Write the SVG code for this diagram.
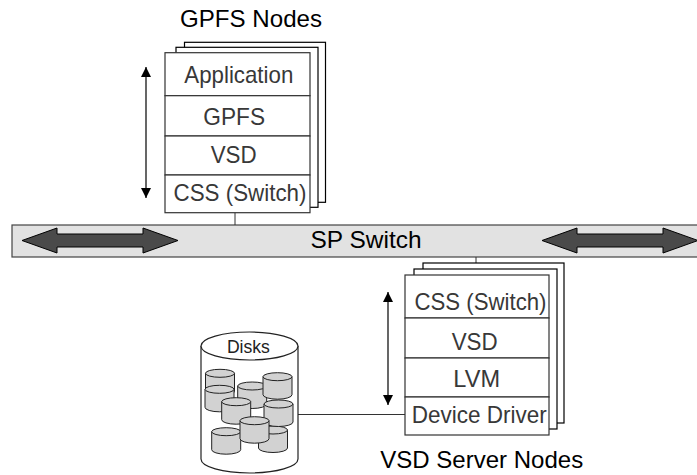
<svg xmlns="http://www.w3.org/2000/svg" width="697" height="475" viewBox="0 0 697 475">
  <style>
    .layer { fill: #ffffff; stroke: #333333; stroke-width: 1.2; }
    .sheet { fill: #ffffff; stroke: #000000; stroke-width: 1.2; }
    .lbl { font-family: "Liberation Sans", Arial, sans-serif; font-size: 24px; fill: #383838; text-anchor: middle; }
    .title { font-family: "Liberation Sans", Arial, sans-serif; font-size: 24px; fill: #000000; text-anchor: middle; }
    .wire { stroke: #333333; stroke-width: 1; fill: none; }
    .vArrow { stroke: #000000; stroke-width: 1.2; fill: none; }
    .fatArrow { fill: #4a4a4a; stroke: #000000; stroke-width: 1; }
    .cyl { fill: #d2d2d2; stroke: #222222; stroke-width: 1; }
  </style>
  <defs>
    <marker id="tri" viewBox="0 0 10 10" refX="10" refY="5" markerWidth="10" markerHeight="17" markerUnits="userSpaceOnUse" orient="auto-start-reverse">
      <path d="M0,0 L10,5 L0,10 Z" fill="#000000"/>
    </marker>
    <!-- small disk drum: top ellipse centre at (14.5,4) -->
    <g id="drum">
      <path class="cyl" d="M0,4 L0,22 A14.5,4.5 0 0 0 29,22 L29,4 Z"/>
      <ellipse class="cyl" cx="14.5" cy="4" rx="14.5" ry="4"/>
    </g>
  </defs>

  <!-- SP Switch bus -->
  <g id="sp-switch">
    <rect x="12" y="225" width="700" height="32" fill="#e2e2e2" stroke="#444444" stroke-width="1.2"/>
    <polygon class="fatArrow" points="22,240.5 57,228 57,234 143,234 143,228 178,240.5 143,253 143,247 57,247 57,253"/>
    <polygon class="fatArrow" points="542,240.5 577,228 577,234 663,234 663,228 698,240.5 663,253 663,247 577,247 577,253"/>
    <text class="title" x="366" y="248" textLength="111" lengthAdjust="spacingAndGlyphs">SP Switch</text>
  </g>

  <!-- connectors -->
  <g id="connectors">
    <line class="wire" x1="235" y1="212.7" x2="235" y2="225"/>
    <line class="wire" x1="476" y1="257" x2="476" y2="263"/>
    <line class="wire" x1="298" y1="414.5" x2="405" y2="414.5"/>
    <line class="vArrow" x1="146" y1="67" x2="146" y2="198" marker-start="url(#tri)" marker-end="url(#tri)"/>
    <line class="vArrow" x1="388" y1="292" x2="388" y2="405" marker-start="url(#tri)" marker-end="url(#tri)"/>
  </g>

  <!-- GPFS node stack -->
  <g id="gpfs-nodes">
    <text class="title" x="251" y="27" textLength="142" lengthAdjust="spacingAndGlyphs">GPFS Nodes</text>
    <rect class="sheet" x="184.5" y="42.3" width="141" height="160"/>
    <rect class="sheet" x="176" y="47.3" width="142" height="160"/>
    <rect class="layer" x="165" y="52.7" width="145" height="43"/>
    <rect class="layer" x="165" y="95.7" width="145" height="40.3"/>
    <rect class="layer" x="165" y="136" width="145" height="39"/>
    <rect class="layer" x="165" y="175" width="145" height="37.7"/>
    <text class="lbl" x="238.8" y="83" textLength="109" lengthAdjust="spacingAndGlyphs">Application</text>
    <text class="lbl" x="234.2" y="124.5" textLength="61.7" lengthAdjust="spacingAndGlyphs">GPFS</text>
    <text class="lbl" x="233.7" y="163" textLength="46" lengthAdjust="spacingAndGlyphs">VSD</text>
    <text class="lbl" x="240" y="200.5" textLength="133" lengthAdjust="spacingAndGlyphs">CSS (Switch)</text>
  </g>

  <!-- VSD server node stack -->
  <g id="vsd-server-nodes">
    <rect class="sheet" x="423" y="263" width="141" height="160"/>
    <rect class="sheet" x="414" y="269" width="143" height="160"/>
    <rect class="layer" x="405" y="275" width="144" height="43"/>
    <rect class="layer" x="405" y="318" width="144" height="40"/>
    <rect class="layer" x="405" y="358" width="144" height="39"/>
    <rect class="layer" x="405" y="397" width="144" height="38"/>
    <text class="lbl" x="480.5" y="310" textLength="132" lengthAdjust="spacingAndGlyphs">CSS (Switch)</text>
    <text class="lbl" x="474.7" y="350" textLength="46" lengthAdjust="spacingAndGlyphs">VSD</text>
    <text class="lbl" x="476.7" y="387" textLength="46.7" lengthAdjust="spacingAndGlyphs">LVM</text>
    <text class="lbl" x="479.2" y="423" textLength="135" lengthAdjust="spacingAndGlyphs">Device Driver</text>
    <text class="title" x="481.7" y="468.3" textLength="203" lengthAdjust="spacingAndGlyphs">VSD Server Nodes</text>
  </g>

  <!-- disk enclosure -->
  <g id="disks">
    <path d="M201,346 L201,459 A48.5,14 0 0 0 298,459 L298,346" fill="#ffffff" stroke="#222222" stroke-width="1.2"/>
    <ellipse cx="249.5" cy="346" rx="48.5" ry="14" fill="#ffffff" stroke="#222222" stroke-width="1.2"/>
    <text x="248.4" y="353.3" font-family="'Liberation Sans', Arial, sans-serif" font-size="18" fill="#222222" text-anchor="middle" textLength="43" lengthAdjust="spacingAndGlyphs">Disks</text>
    <use href="#drum" x="205.5" y="369.3"/>
    <use href="#drum" x="237.7" y="382"/>
    <use href="#drum" x="205" y="385.3"/>
    <use href="#drum" x="221.7" y="397.7"/>
    <use href="#drum" x="263" y="372.7"/>
    <use href="#drum" x="211.7" y="427.7"/>
    <use href="#drum" x="258.5" y="426"/>
    <use href="#drum" x="264" y="400"/>
    <use href="#drum" x="240" y="416.7"/>
  </g>
</svg>
